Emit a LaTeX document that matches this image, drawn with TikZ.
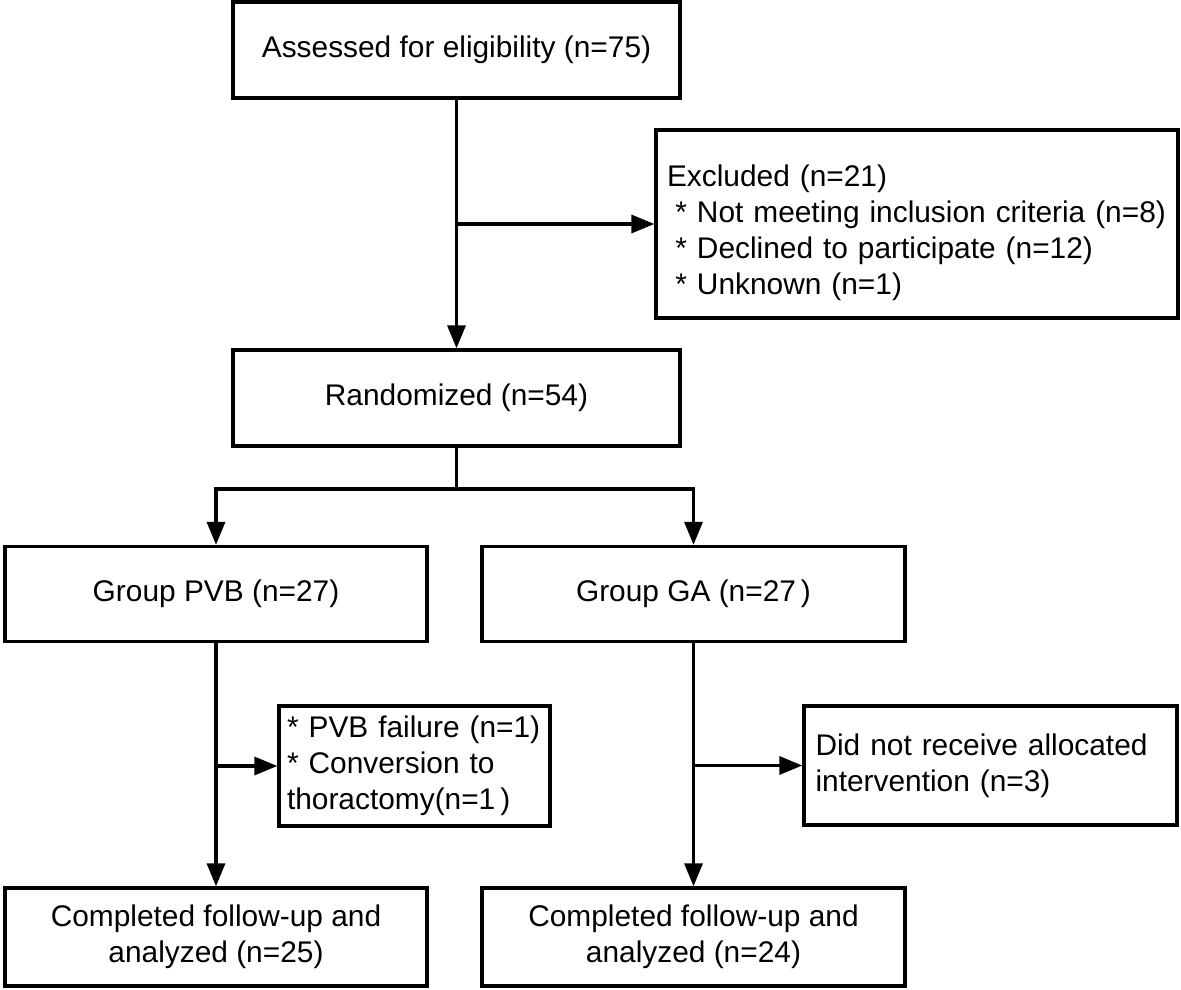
\documentclass[tikz,border=0pt]{standalone}
\usepackage[rgb]{xcolor}
\usepackage{fontspec}
\setmainfont{Liberation Sans}
\usepackage{tikz}
\usetikzlibrary{arrows.meta}

\newcommand{\bul}{*\ }

\begin{document}
\begin{tikzpicture}[x=0.02cm, y=-0.02cm,
  box/.style={draw=black, line width=1.9pt, inner sep=0pt,
    font=\fontsize{17}{20.5}\selectfont},
  arr/.style={line width=1.9pt, -{Triangle[length=0.46cm, width=0.36cm]}},
  link/.style={line width=1.9pt}]

\useasboundingbox (0,0) rectangle (1181,990);

% top of the chart
\node[box, minimum width=8.94cm, minimum height=1.92cm] (assess) at (456.5,50)
  {Assessed for eligibility (n=75)};
\node[box, minimum width=10.44cm, minimum height=3.76cm, text width=10.0cm,
  align=left] (excl) at (917,224)
  {\rule{0pt}{0.8cm}Excluded (n=21)\\
   \hspace*{0.28em}\bul Not meeting inclusion criteria (n=8)\\
   \hspace*{0.28em}\bul Declined to participate (n=12)\\
   \hspace*{0.28em}\bul Unknown (n=1)};
\node[box, minimum width=8.94cm, minimum height=1.92cm] (random) at (456.5,398)
  {Randomized (n=54)};

% the two groups
\node[box, minimum width=8.44cm, minimum height=1.9cm] (pvb) at (216,594)
  {Group PVB (n=27)};
\node[box, minimum width=8.46cm, minimum height=1.9cm] (ga) at (693.5,594)
  {Group GA (n=27\,)};

% losses after allocation
\node[box, minimum width=5.42cm, minimum height=2.4cm, text width=5.1cm,
  align=left] (fail) at (414.5,766)
  {\bul PVB failure (n=1)\\ \bul Conversion to\\ thoractomy(n=1\,)};
\node[box, minimum width=7.46cm, minimum height=2.38cm, text width=7.0cm,
  align=left] (noint) at (990.5,765.5)
  {Did not receive allocated\\ intervention (n=3)};

% analysed
\node[box, minimum width=8.44cm, minimum height=1.96cm, align=center] (done1) at (216,937)
  {Completed follow-up and\\ analyzed (n=25)};
\node[box, minimum width=8.46cm, minimum height=1.96cm, align=center] (done2) at (693.5,937)
  {Completed follow-up and\\ analyzed (n=24)};

% connectors
\draw[arr] (assess.south) -- (random.north);
\draw[arr] (assess.south |- excl.west) -- (excl.west);

\coordinate (fork) at (456.5,489);
\draw[link] (random.south) -- (fork);
\foreach \grp in {pvb, ga}
  {
  \draw[arr] (fork) -| (\grp.north);
  }

\draw[arr] (pvb.south) -- (done1.north);
\draw[arr] (pvb.south |- fail.west) -- (fail.west);
\draw[arr] (ga.south) -- (done2.north);
\draw[arr] (ga.south |- noint.west) -- (noint.west);

\end{tikzpicture}
\end{document}
